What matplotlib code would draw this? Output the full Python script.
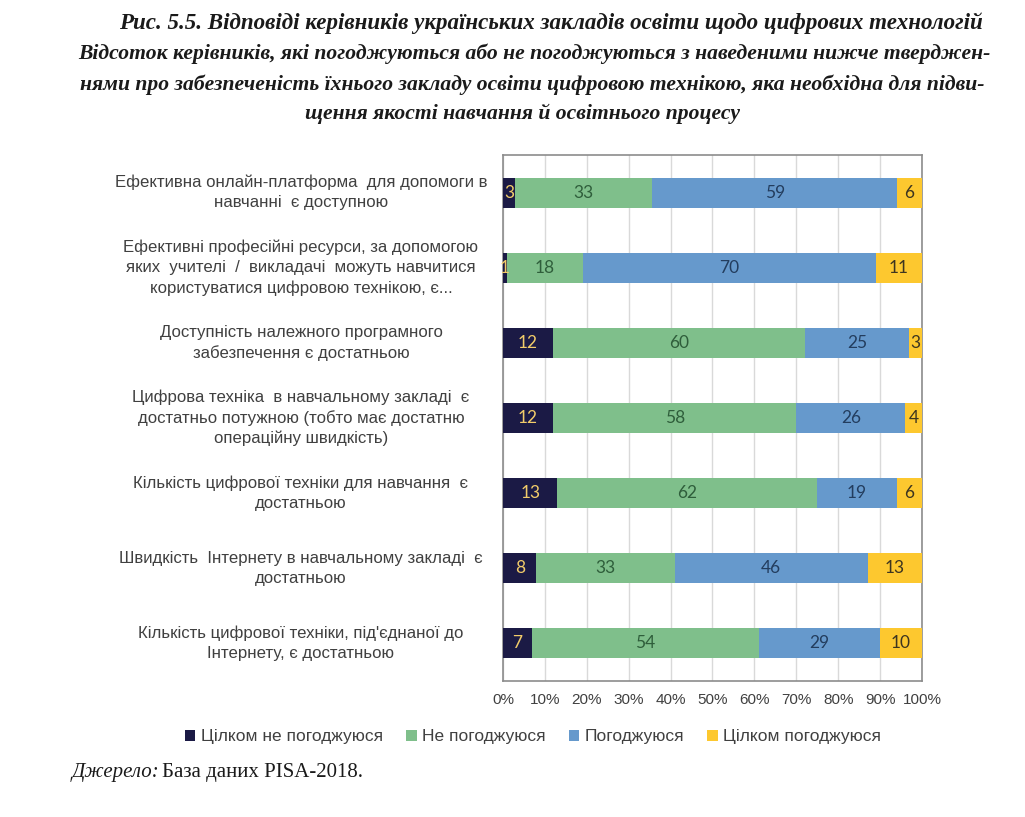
import numpy as np
import matplotlib.pyplot as plt
import matplotlib.transforms as mtransforms
from matplotlib.ticker import PercentFormatter

# statements (top to bottom as in the chart)
categories = [
    'Ефективна онлайн-платформа  для допомоги в\nнавчанні  є доступною',
    'Ефективні професійні ресурси, за допомогою\nяких  учителі  /  викладачі  можуть навчитися\nкористуватися цифровою технікою, є...',
    'Доступність належного програмного\nзабезпечення є достатньою',
    'Цифрова техніка  в навчальному закладі  є\nдостатньо потужною (тобто має достатню\nопераційну швидкість)',
    'Кількість цифрової техніки для навчання  є\nдостатньою',
    'Швидкість  Інтернету в навчальному закладі  є\nдостатньою',
    'Кількість цифрової техніки, під\'єднаної до\nІнтернету, є достатньою',
]

series_names = ['Цілком не погоджуюся', 'Не погоджуюся', 'Погоджуюся', 'Цілком погоджуюся']
strongly_disagree = [3, 1, 12, 12, 13, 8, 7]
disagree = [33, 18, 60, 58, 62, 33, 54]
agree = [59, 70, 25, 26, 19, 46, 29]
strongly_agree = [6, 11, 3, 4, 6, 13, 10]

colors = ['#1b1a45', '#7fbf8b', '#6699cc', '#fdc82f']
label_colors = ['#f2cc6a', '#2f5e3b', '#233d5e', '#3d3520']

title_lines = [
    'Рис. 5.5. Відповіді керівників українських закладів освіти щодо цифрових технологій',
    'Відсоток керівників, які погоджуються або не погоджуються з наведеними нижче тверджен-',
    'нями про забезпеченість їхнього закладу освіти цифровою технікою, яка необхідна для підви-',
    'щення якості навчання й освітнього процесу',
]

fig = plt.figure(figsize=(10.25, 8.17), dpi=100)
ax = fig.add_axes([0.4907, 0.1665, 0.4088, 0.6438])

data = np.array([strongly_disagree, disagree, agree, strongly_agree], dtype=float)
shares = data / data.sum(axis=0) * 100
y = np.arange(len(categories))
left = np.zeros(len(categories))
for i in range(4):
    bars = ax.barh(y, shares[i], left=left, height=0.4, color=colors[i],
                   label=series_names[i], zorder=3)
    for j, b in enumerate(bars):
        cx = left[j] + shares[i][j] / 2
        ax.text(cx, y[j], f'{int(data[i][j])}', ha='center', va='center',
                fontsize=12.5, color=label_colors[i], family='Lato', zorder=4)
    left += shares[i]

ax.set_xlim(0, 100)
ax.set_ylim(len(categories) - 0.5, -0.5)
ax.set_xticks(np.arange(0, 101, 10))
ax.xaxis.set_major_formatter(PercentFormatter(decimals=0))
ax.set_yticks(y)
ax.set_yticklabels([])
ax.tick_params(axis='y', length=0)
ax.tick_params(axis='x', length=0, pad=9, labelsize=11, labelcolor='#404040',
               labelfontfamily='Liberation Sans')

# category labels centred in the left margin
trans = mtransforms.blended_transform_factory(ax.transAxes, ax.transData)
for j, cat in enumerate(categories):
    ax.text(-0.482, y[j], cat, transform=trans, ha='center', va='center',
            fontsize=12.1, color='#404040', family='Liberation Sans', linespacing=1.4)

ax.grid(axis='x', color='#d9d9d9', linewidth=1, zorder=0)
for s in ax.spines.values():
    s.set_color('#8c8c8c')
    s.set_linewidth(1.2)

leg = fig.legend(loc='center', bbox_to_anchor=(0.52, 0.098), ncol=4, frameon=False,
                 handlelength=0.6, handleheight=0.6, handletextpad=0.3, columnspacing=1.35,
                 prop={'family': 'Liberation Sans', 'size': 12.5})
for t in leg.get_texts():
    t.set_color('#404040')

tfont = dict(family='Liberation Serif', weight='bold', style='italic', color='#1a1a1a',
             ha='center', va='center')
title_pos = [(0.5375, 0.971), (0.521, 0.934), (0.519, 0.896), (0.510, 0.861)]
title_sizes = [16.6, 15.6, 15.6, 15.6]
for line, (tx, ty), fs in zip(title_lines, title_pos, title_sizes):
    fig.text(tx, ty, line, fontsize=fs, **tfont)

fig.text(0.070, 0.054, 'Джерело:', fontsize=15, family='Liberation Serif', style='italic',
         color='#1a1a1a', va='center')
fig.text(0.158, 0.054, 'База даних PISA-2018.', fontsize=15, family='Liberation Serif',
         color='#1a1a1a', va='center')

fig.savefig('out.png', dpi=100)
